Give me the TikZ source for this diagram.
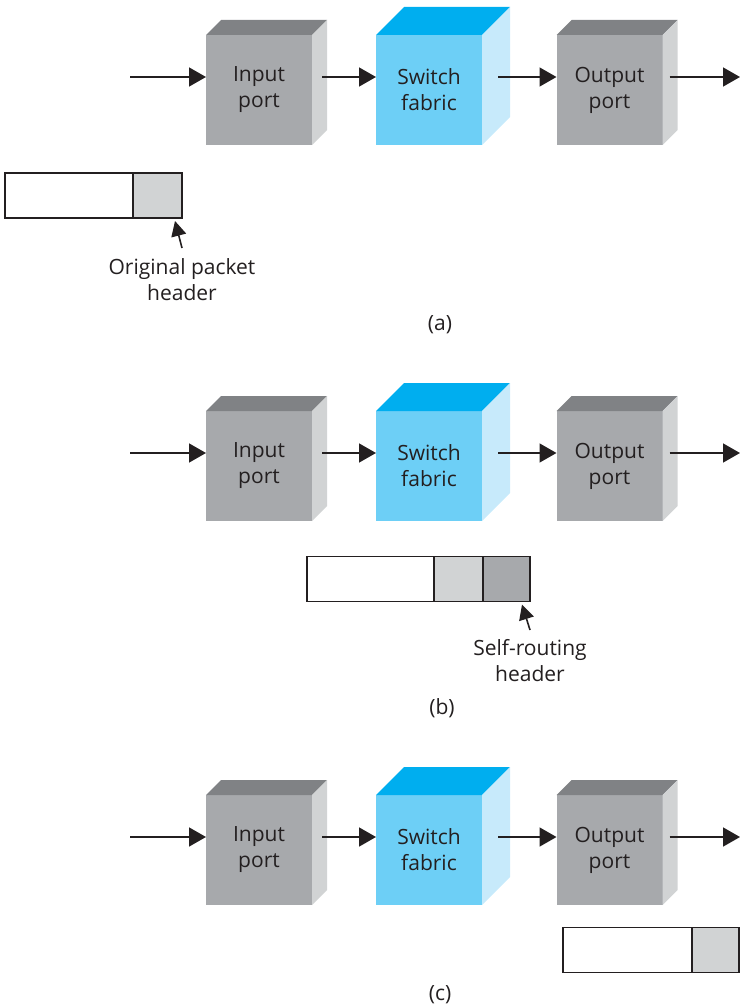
\documentclass[tikz,border=0pt]{standalone}
\usepackage{fontspec}
\setmainfont{Open Sans}
\usetikzlibrary{positioning,arrows.meta,calc}
\definecolor{portfront}{RGB}{167,169,172}
\definecolor{porttop}{RGB}{128,130,133}
\definecolor{portside}{RGB}{209,211,212}
\definecolor{fabfront}{RGB}{109,207,246}
\definecolor{fabtop}{RGB}{0,174,239}
\definecolor{fabside}{RGB}{199,234,251}
\definecolor{inkdark}{RGB}{35,31,32}
\definecolor{hdrlight}{RGB}{209,211,212}
\definecolor{hdrdark}{RGB}{167,169,172}
\newcommand{\lblfont}{\fontsize{21}{26}\selectfont}
\tikzset{
  port/.style  ={rectangle, fill=portfront, minimum width=106pt, minimum height=110pt,
                 inner sep=0pt, outer sep=0pt, align=center, font=\lblfont, text=inkdark},
  fabric/.style={port, fill=fabfront},
  flow/.style  ={-{Triangle[length=17pt,width=19pt]}, line width=1.6pt, draw=inkdark},
  pkt/.style   ={rectangle, draw=inkdark, fill=white, line width=1.5pt, minimum height=45pt,
                 inner sep=0pt, outer sep=0pt},
  lbl/.style   ={align=center, font=\lblfont, text=inkdark, inner sep=0pt},
}

\begin{document}
\begin{tikzpicture}[x=1pt, y=-1pt]
\useasboundingbox (0,0) rectangle (740,1008);
% the three panels share one switch row
\foreach \p/\dy in {a/0,b/376,c/760} {
  \begin{scope}[yshift=-\dy pt]
    \node[port]   (in\p)  at (259,90)   {Input\\port};
    \node[fabric] (sw\p)  at (429,90)   {Switch\\fabric};
    \node[port]   (out\p) at (609.5,90) {Output\\port};
    \foreach \n/\d/\t/\s in {in/15/porttop/portside, sw/28/fabtop/fabside, out/15/porttop/portside} {
      \fill[\t] (\n\p.north west) -- ++(\d,-\d) -- ($(\n\p.north east)+(\d,-\d)$) -- (\n\p.north east) -- cycle;
      \fill[\s] (\n\p.north east) -- ++(\d,-\d) -- ($(\n\p.south east)+(\d,-\d)$) -- (\n\p.south east) -- cycle;
    }
    \coordinate (src\p) at (130,77);
    \coordinate (dst\p) at (740,77);
    \draw[flow] (src\p) -- (in\p.west |- src\p);
    \draw[flow] ($(in\p.east |- src\p)+(10,0)$) -- (sw\p.west |- src\p);
    \draw[flow] ($(sw\p.east |- src\p)+(16,0)$) -- (out\p.west |- src\p);
    \draw[flow] ($(out\p.east |- src\p)+(7,0)$) -- (dst\p);
  \end{scope}
}
% (a) original packet
\node[pkt, minimum width=128pt] (bodya) at (69,195.5) {};
\node[pkt, minimum width=49pt, fill=hdrlight, right=0pt of bodya] (hdra) {};
\coordinate (taila) at (182,248);
\draw[flow, -{Triangle[length=15pt,width=15pt]}] (taila) -- ($(hdra.south east)+(-7,3)$);
\node[lbl, below=10pt of taila] (txta) {Original packet\\header};
\node[lbl] (capa) at (440,325) {(a)};
% (b) self-routing header added
\node[pkt, minimum width=127pt] (bodyb) at (370.5,579) {};
\node[pkt, minimum width=49pt, fill=hdrlight, right=0pt of bodyb] (hdrb) {};
\node[pkt, minimum width=47pt, fill=hdrdark, right=0pt of hdrb] (srhb) {};
\coordinate (tailb) at (530,630);
\draw[flow, -{Triangle[length=15pt,width=15pt]}] (tailb) -- ($(srhb.south east)+(-8,3)$);
\node[lbl, below=9pt of tailb] (txtb) {Self-routing\\header};
\node[lbl] (capb) at (442,708) {(b)};
% (c) header removed again
\node[pkt, minimum width=129pt] (bodyc) at (627.5,950) {};
\node[pkt, minimum width=47pt, fill=hdrlight, right=0pt of bodyc] (hdrc) {};
\node[lbl] (capc) at (440,995) {(c)};
\end{tikzpicture}
\end{document}
